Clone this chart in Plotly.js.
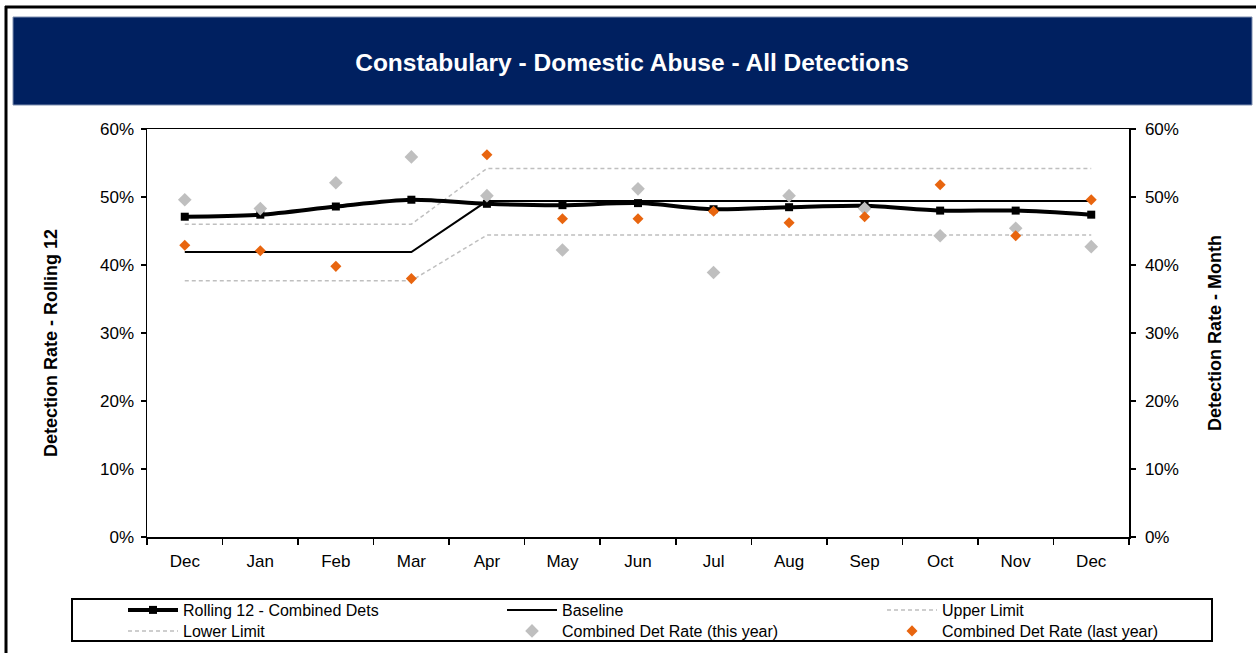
<!DOCTYPE html>
<html><head><meta charset="utf-8">
<script src="https://cdn.plot.ly/plotly-3.0.1.min.js"></script>
<style>html,body{margin:0;padding:0;background:#fff;overflow:hidden}#chart{width:1256px;height:653px}</style>
</head><body><div id="chart"></div>
<script>
// ---- data ----
const months = ['Dec','Jan','Feb','Mar','Apr','May','Jun','Jul','Aug','Sep','Oct','Nov','Dec'];
const rolling12 = [0.471,0.474,0.486,0.496,0.490,0.488,0.491,0.482,0.485,0.487,0.480,0.480,0.474];
const baseline = [0.419,0.419,0.419,0.419,0.494,0.494,0.494,0.494,0.494,0.494,0.494,0.494,0.494];
const upperLimit = [0.460,0.460,0.460,0.460,0.542,0.542,0.542,0.542,0.542,0.542,0.542,0.542,0.542];
const lowerLimit = [0.377,0.377,0.377,0.377,0.444,0.444,0.444,0.444,0.444,0.444,0.444,0.444,0.444];
const rateThisYear = [0.496,0.483,0.521,0.559,0.502,0.422,0.512,0.389,0.502,0.483,0.443,0.454,0.427];
const rateLastYear = [0.429,0.421,0.398,0.380,0.562,0.468,0.468,0.479,0.462,0.471,0.518,0.443,0.496];
const titleText = 'Constabulary - Domestic Abuse - All Detections';
const leftTitle = 'Detection Rate - Rolling 12';
const rightTitle = 'Detection Rate - Month';

const monthIndex = months.map((m, i) => i);

// ---- layout helpers (pixel -> paper) ----
const W = 1256, H = 653;
const L = 147, R = 1129, T = 129, B = 537;
const px = x => (x - L) / (R - L);
const py = y => (B - y) / (B - T);

function hasFont(name) {
  const c = document.createElement('canvas').getContext('2d');
  const t = 'Constabulary Domestic Abuse mmmwwwiii 0123';
  c.font = '30px monospace'; const a = c.measureText(t).width;
  c.font = '30px "' + name + '", monospace'; const b = c.measureText(t).width;
  return a !== b;
}
const narrow = hasFont('Liberation Sans Narrow');
const sans = '"Liberation Sans", Arial, sans-serif';
const titleFont = narrow
  ? {family: '"Liberation Sans Narrow", "Arial Narrow", sans-serif', size: 30, color: '#ffffff', weight: 'bold'}
  : {family: sans, size: 24.5, color: '#ffffff', weight: 'bold'};

const traces = [
  {x: monthIndex, y: upperLimit, name: 'Upper Limit', mode: 'lines',
   line: {color: '#BFBFBF', width: 1.5, dash: '4px,3px'}, legend: 'legend3'},
  {x: monthIndex, y: lowerLimit, name: 'Lower Limit', mode: 'lines',
   line: {color: '#BFBFBF', width: 1.5, dash: '4px,3px'}, legend: 'legend4'},
  {x: monthIndex, y: baseline, name: 'Baseline', mode: 'lines',
   line: {color: '#000000', width: 2}, legend: 'legend2'},
  {x: monthIndex, y: rolling12, name: 'Rolling 12 - Combined Dets', mode: 'lines+markers',
   line: {color: '#000000', width: 4, shape: 'spline', smoothing: 0.8},
   marker: {symbol: 'square', size: 8, color: '#000000'}, legend: 'legend'},
  {x: monthIndex, y: rateThisYear, name: 'Combined Det Rate (this year)', mode: 'markers', yaxis: 'y2',
   marker: {symbol: 'diamond', size: 10.5, color: '#BFBFBF'}, legend: 'legend5'},
  {x: monthIndex, y: rateLastYear, name: 'Combined Det Rate (last year)', mode: 'markers', yaxis: 'y2',
   marker: {symbol: 'diamond', size: 8.5, color: '#E8650F'}, legend: 'legend6'}
];

const tickFont = {family: sans, size: 17, color: '#000000'};
const legendAt = (xp, yTop) => ({orientation: 'v', xanchor: 'left', yanchor: 'top',
  x: px(xp), y: py(yTop),
  font: {family: sans, size: 16, color: '#000000'}, itemwidth: 50,
  bgcolor: 'rgba(0,0,0,0)', borderwidth: 0, tracegroupgap: 0});
const row1 = 593, row2 = 614;
const col1 = 123, col2 = 502, col3 = 882;

const layout = {
  width: W, height: H,
  margin: {l: L, r: W - R, t: T, b: H - B, autoexpand: false},
  paper_bgcolor: '#ffffff', plot_bgcolor: '#ffffff',
  showlegend: true,
  title: {text: titleText, xref: 'container', yref: 'container', x: 632 / W, y: 1 - 62 / H,
    xanchor: 'center', yanchor: 'middle', font: titleFont},
  xaxis: {range: [-0.5, 12.5], tickmode: 'array', tickvals: monthIndex, ticktext: months,
    ticks: '', showline: true, linecolor: '#000000', linewidth: 1.5, mirror: true,
    showgrid: false, zeroline: false, tickfont: tickFont, ticklabelstandoff: 8,
    minor: {tick0: 0.5, dtick: 1, ticks: 'outside', ticklen: 6, tickcolor: '#000000', tickwidth: 1.5, showgrid: false}},
  yaxis: {range: [0, 0.6], tick0: 0, dtick: 0.1, tickformat: '.0%', ticks: 'outside', ticklen: 5,
    tickcolor: '#000000', tickwidth: 1.5, showline: true, linecolor: '#000000', linewidth: 1.5,
    showgrid: false, zeroline: false, tickfont: tickFont, ticklabelstandoff: 3},
  yaxis2: {range: [0, 0.6], overlaying: 'y', side: 'right', tick0: 0, dtick: 0.1, tickformat: '.0%',
    ticks: 'outside', ticklen: 5, tickcolor: '#000000', tickwidth: 1.5, showline: true,
    linecolor: '#000000', linewidth: 1.5, showgrid: false, zeroline: false, tickfont: tickFont, ticklabelstandoff: 6},
  legend: legendAt(col1, row1),
  legend2: legendAt(col2, row1),
  legend3: legendAt(col3, row1),
  legend4: legendAt(col1, row2),
  legend5: legendAt(col2, row2),
  legend6: legendAt(col3, row2),
  shapes: [
    {type: 'line', xref: 'paper', yref: 'paper', x0: px(5), x1: px(1256), y0: py(7), y1: py(7),
     line: {color: '#000000', width: 3}, layer: 'below'},
    {type: 'line', xref: 'paper', yref: 'paper', x0: px(6), x1: px(6), y0: py(6), y1: py(653),
     line: {color: '#000000', width: 3}, layer: 'below'},
    {type: 'rect', xref: 'paper', yref: 'paper', x0: px(13), x1: px(1252), y0: py(105), y1: py(17),
     line: {color: '#7f8fb0', width: 1}, fillcolor: '#002060', layer: 'below'},
    {type: 'rect', xref: 'paper', yref: 'paper', x0: px(72), x1: px(1212), y0: py(641), y1: py(599),
     line: {color: '#000000', width: 2}, fillcolor: 'rgba(0,0,0,0)', layer: 'above'}
  ],
  annotations: [
    {text: leftTitle, xref: 'paper', yref: 'paper', x: px(51), y: py(343), textangle: -90,
     showarrow: false, xanchor: 'center', yanchor: 'middle',
     font: {family: sans, size: 18, color: '#000000', weight: 'bold'}},
    {text: rightTitle, xref: 'paper', yref: 'paper', x: px(1215), y: py(333), textangle: -90,
     showarrow: false, xanchor: 'center', yanchor: 'middle',
     font: {family: sans, size: 18, color: '#000000', weight: 'bold'}}
  ]
};

Plotly.newPlot('chart', traces, layout, {displayModeBar: false, staticPlot: true});
</script></body></html>
